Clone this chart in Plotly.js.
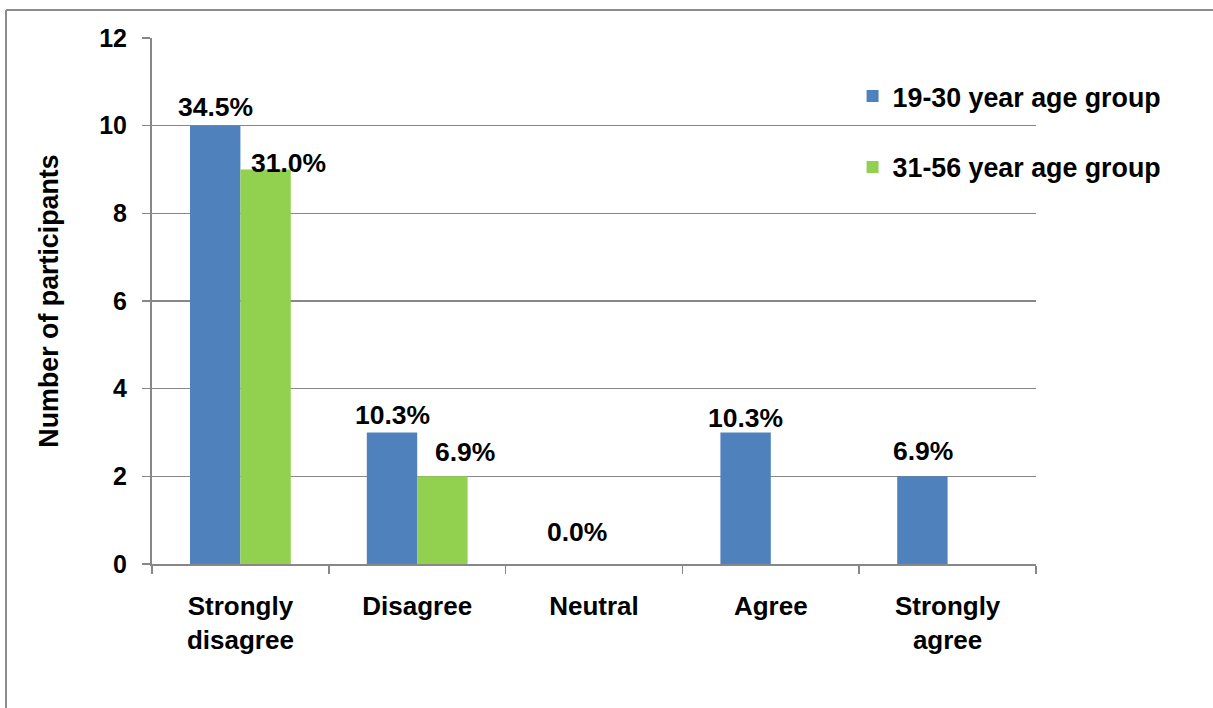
<!DOCTYPE html>
<html>
<head>
<meta charset="utf-8">
<script src="https://cdn.plot.ly/plotly-3.0.1.min.js"></script>
<style>
  html, body { margin: 0; padding: 0; background: #ffffff; }
  #chart { width: 1213px; height: 708px; }
</style>
</head>
<body>
<div id="chart"></div>
<script>
// ---- data ----
const categories = ['Strongly disagree', 'Disagree', 'Neutral', 'Agree', 'Strongly agree'];
const tickLabels = ['Strongly<br>disagree', 'Disagree', 'Neutral', 'Agree', 'Strongly<br>agree'];
const seriesNames = ['19-30 year age group', '31-56 year age group'];
const young = [10, 3, 0, 3, 2];
const older = [9, 2, 0, 0, 0];
const youngPct = ['34.5%', '10.3%', '', '10.3%', '6.9%'];
const olderPct = ['31.0%', '6.9%', '0.0%', '', ''];
const yTicks = [0, 2, 4, 6, 8, 10, 12];

// ---- style ----
const blue = '#4F81BD';
const green = '#92D050';
const gray = '#878787';
const fontFam = 'Liberation Sans, Arial, sans-serif';
// pixel nudges for label glyph centres (style only)
const youngLabelX = [-25, -25, -25, -25, -25];
const youngLabelY = [18, 17, 0, 14, 24];
const olderLabelX = [48, 48, -17, 48, 48];
const olderLabelY = [6, 23, 31, 0, 0];
const labelSize = 26.5;

const traces = [
  { type: 'bar', name: seriesNames[0], x: categories, y: young,
    marker: { color: blue, line: { width: 0 } }, legendgroup: 'a' },
  { type: 'bar', name: seriesNames[1], x: categories, y: older,
    marker: { color: green, line: { width: 0 } }, legendgroup: 'b' }
];

const annotations = [];
categories.forEach((c, i) => {
  if (youngPct[i]) annotations.push({ x: c, y: young[i], xref: 'x', yref: 'y', text: youngPct[i],
    showarrow: false, xanchor: 'center', yanchor: 'middle', xshift: youngLabelX[i], yshift: youngLabelY[i] + 1,
    font: { family: fontFam, size: labelSize, weight: 'bold', color: '#000' } });
  if (olderPct[i]) annotations.push({ x: c, y: older[i], xref: 'x', yref: 'y', text: olderPct[i],
    showarrow: false, xanchor: 'center', yanchor: 'middle', xshift: olderLabelX[i], yshift: olderLabelY[i] + 1,
    font: { family: fontFam, size: labelSize, weight: 'bold', color: '#000' } });
});

const layout = {
  width: 1213, height: 708,
  margin: { l: 152, r: 177, t: 38, b: 144, pad: 0 },
  paper_bgcolor: '#ffffff', plot_bgcolor: '#ffffff',
  font: { family: fontFam, size: 26, weight: 'bold', color: '#000' },
  barmode: 'group', bargap: 0.43, bargroupgap: 0,
  showlegend: true,
  legend: { x: 0.7925, y: 0.935, xanchor: 'left', yanchor: 'top', bgcolor: 'rgba(0,0,0,0)',
    traceorder: 'grouped', tracegroupgap: 33,
    font: { family: fontFam, size: 26.8, weight: 'bold', color: '#000' } },
  xaxis: {
    type: 'category', tickvals: categories, ticktext: tickLabels,
    tickson: 'boundaries', ticks: 'outside', ticklen: 8, tickwidth: 1.5, tickcolor: gray,
    showline: true, linecolor: gray, linewidth: 2, showgrid: false, zeroline: false,
    tickfont: { family: fontFam, size: 26, weight: 'bold', color: '#000' },
    ticklabelstandoff: 18, fixedrange: true
  },
  yaxis: {
    range: [0, 12], tickvals: yTicks, ticks: 'outside', ticklen: 8, tickwidth: 1.5, tickcolor: gray,
    showline: true, linecolor: gray, linewidth: 2,
    showgrid: true, gridcolor: gray, gridwidth: 1.5, zeroline: false,
    tickfont: { family: fontFam, size: 25, weight: 'bold', color: '#000' },
    ticklabelstandoff: 10,
    title: { text: 'Number of participants', standoff: 33,
      font: { family: fontFam, size: 26.8, weight: 'bold', color: '#000' } },
    fixedrange: true
  },
  annotations: annotations,
  shapes: [
    { type: 'line', xref: 'paper', yref: 'paper', x0: (6 - 152) / 884, x1: (1213 - 152) / 884,
      y0: (564 - 10) / 526, y1: (564 - 10) / 526, line: { color: '#8c8c8c', width: 2 } },
    { type: 'line', xref: 'paper', yref: 'paper', x0: (6 - 152) / 884, x1: (6 - 152) / 884,
      y0: (564 - 10) / 526, y1: (564 - 710) / 526, line: { color: '#8c8c8c', width: 2 } }
  ]
};

Plotly.newPlot('chart', traces, layout, { displayModeBar: false, staticPlot: true });
</script>
</body>
</html>
